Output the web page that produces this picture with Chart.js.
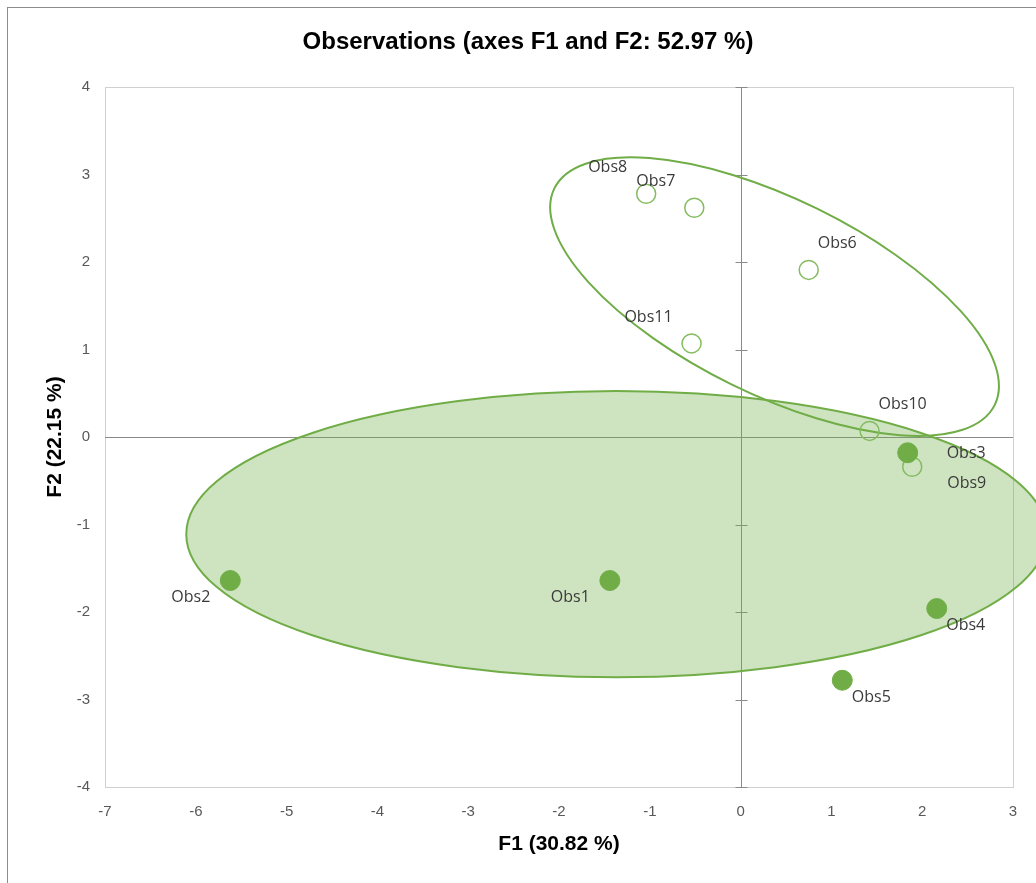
<!DOCTYPE html>
<html>
<head>
<meta charset="utf-8">
<script src="https://cdn.jsdelivr.net/npm/chart.js@4.4.1/dist/chart.umd.min.js"></script>
<style>
  html, body { margin: 0; padding: 0; background: #fff; }
</style>
</head>
<body>
<canvas id="chart" width="1036" height="883"></canvas>
<script>
// group 1 observations (filled markers)
var group1Names = ['Obs1', 'Obs2', 'Obs3', 'Obs4', 'Obs5'];
var group1X = [-1.44, -5.62, 1.84, 2.16, 1.12];
var group1Y = [-1.64, -1.64, -0.18, -1.96, -2.78];

// group 2 observations (hollow markers)
var group2Names = ['Obs6', 'Obs7', 'Obs8', 'Obs9', 'Obs10', 'Obs11'];
var group2X = [0.75, -0.51, -1.04, 1.89, 1.42, -0.54];
var group2Y = [1.91, 2.62, 2.78, -0.34, 0.07, 1.07];

var xTicks = [-7, -6, -5, -4, -3, -2, -1, 0, 1, 2, 3];
var yTicks = [-4, -3, -2, -1, 0, 1, 2, 3, 4];

// confidence ellipses: centre + two conjugate half axes, in F1/F2 units
var ellipse1Center = [-1.365, -1.11];
var ellipse1AxisA = [4.74, 0];
var ellipse1AxisB = [0, 1.635];
var ellipse2Center = [0.374, 1.604];
var ellipse2AxisA = [2.425, -1.237];
var ellipse2AxisB = [-0.475, -1.002];

// where each point label sits relative to its marker
var group1LabelPos = ['bl', 'bl', 'r', 'br', 'br'];
var group2LabelPos = ['tr', 'tl', 'tl', 'rb', 'tr', 'tl'];

var GREEN = '#70ad47';
var labelPlacement = {
    tl: { dx: -19, dy: -27.5, align: 'right' },
    tr: { dx: 9, dy: -27.5, align: 'left' },
    bl: { dx: -20, dy: 15.7, align: 'right' },
    br: { dx: 9.5, dy: 16, align: 'left' },
    r: { dx: 39, dy: 0, align: 'left' },
    rb: { dx: 35, dy: 16, align: 'left' }
};

function toPoints(xs, ys) {
    return xs.map((x, i) => ({ x: x, y: ys[i] }));
}

function traceEllipse(chart, center, axisA, axisB) {
    var ctx = chart.ctx;
    var sx = chart.scales.x, sy = chart.scales.y;
    var kx = sx.getPixelForValue(1) - sx.getPixelForValue(0);
    var ky = sy.getPixelForValue(1) - sy.getPixelForValue(0);
    ctx.save();
    ctx.transform(axisA[0] * kx, axisA[1] * ky, axisB[0] * kx, axisB[1] * ky,
        sx.getPixelForValue(center[0]), sy.getPixelForValue(center[1]));
    ctx.beginPath();
    ctx.arc(0, 0, 1, 0, Math.PI * 2);
    ctx.restore();
}

var plotDecor = {
    id: 'plotDecor',
    beforeDraw(chart) {
        var ctx = chart.ctx;
        ctx.save();
        ctx.strokeStyle = '#8c8c8c';
        ctx.lineWidth = 1;
        ctx.strokeRect(7.5, 7.5, 1200, 1200);
        ctx.restore();
    },
    beforeDatasetsDraw(chart) {
        var ctx = chart.ctx;
        var a = chart.chartArea;
        var sx = chart.scales.x, sy = chart.scales.y;
        ctx.save();
        // plot area frame
        ctx.strokeStyle = '#d0d0d0';
        ctx.lineWidth = 1;
        ctx.strokeRect(Math.round(a.left) + 0.5, Math.round(a.top) + 0.5,
            Math.round(a.right - a.left), Math.round(a.bottom - a.top));

        // axes through the origin, tick marks on the vertical one
        var x0 = Math.round(sx.getPixelForValue(0)) + 0.5;
        var y0 = Math.round(sy.getPixelForValue(0)) + 0.5;
        ctx.strokeStyle = '#8a8a8a';
        ctx.beginPath();
        ctx.moveTo(x0, a.top);
        ctx.lineTo(x0, a.bottom);
        ctx.moveTo(a.left, y0);
        ctx.lineTo(a.right, y0);
        yTicks.forEach(v => {
            var p = Math.round(sy.getPixelForValue(v)) + 0.5;
            ctx.moveTo(x0 - 6, p);
            ctx.lineTo(x0 + 6, p);
        });
        ctx.stroke();

        // ellipses
        ctx.lineWidth = 2;
        ctx.strokeStyle = GREEN;
        traceEllipse(chart, ellipse1Center, ellipse1AxisA, ellipse1AxisB);
        ctx.fillStyle = 'rgba(112, 173, 71, 0.34)';
        ctx.fill();
        ctx.stroke();
        traceEllipse(chart, ellipse2Center, ellipse2AxisA, ellipse2AxisB);
        ctx.stroke();
        ctx.restore();
    },
    afterDatasetsDraw(chart) {
        var ctx = chart.ctx;
        ctx.save();
        ctx.font = '16px "Open Sans"';
        ctx.fillStyle = '#3a3a3a';
        ctx.textBaseline = 'alphabetic';
        var groups = [[group1Names, group1LabelPos], [group2Names, group2LabelPos]];
        groups.forEach((g, di) => {
            var meta = chart.getDatasetMeta(di);
            meta.data.forEach((pt, i) => {
                var p = labelPlacement[g[1][i]];
                ctx.textAlign = p.align;
                ctx.fillText(g[0][i], pt.x + p.dx, pt.y + p.dy + 5.7);
            });
        });
        ctx.restore();
    }
};

var tickFont = { family: '"Liberation Sans", Arial, sans-serif', size: 15 };

new Chart(document.getElementById('chart'), {
    type: 'scatter',
    data: {
        datasets: [{
            label: 'Group 1',
            data: toPoints(group1X, group1Y),
            pointRadius: 10,
            pointBorderWidth: 1,
            backgroundColor: GREEN,
            borderColor: GREEN
        }, {
            label: 'Group 2',
            data: toPoints(group2X, group2Y),
            pointRadius: 9.5,
            pointBorderWidth: 1.5,
            backgroundColor: 'rgba(0,0,0,0)',
            borderColor: '#84bc60'
        }]
    },
    options: {
        responsive: false,
        animation: false,
        events: [],
        devicePixelRatio: 1,
        layout: { padding: { left: 43, right: 23, top: 0, bottom: 0 } },
        plugins: {
            legend: { display: false },
            tooltip: { enabled: false },
            title: {
                display: true,
                text: 'Observations (axes F1 and F2: 52.97 %)',
                color: '#000',
                font: { family: '"Liberation Sans", Arial, sans-serif', size: 24, weight: 'bold' },
                padding: { top: 27.6, bottom: 30.6 }
            }
        },
        scales: {
            x: {
                type: 'linear',
                min: -7,
                max: 3,
                afterBuildTicks: s => { s.ticks = xTicks.map(v => ({ value: v })); },
                afterFit: s => { s.height = 96; },
                grid: { display: false, drawTicks: false },
                border: { display: false },
                ticks: { font: tickFont, color: '#595959', padding: 16, maxRotation: 0, autoSkip: false },
                title: {
                    display: true,
                    text: 'F1 (30.82 %)',
                    color: '#000',
                    font: { family: '"Liberation Sans", Arial, sans-serif', size: 21, weight: 'bold' },
                    padding: { top: 0, bottom: 26 }
                }
            },
            y: {
                type: 'linear',
                min: -4,
                max: 4,
                afterBuildTicks: s => { s.ticks = yTicks.map(v => ({ value: v })); },
                afterFit: s => { s.width = 62; },
                grid: { display: false, drawTicks: false },
                border: { display: false },
                ticks: { font: tickFont, color: '#595959', padding: 15, autoSkip: false },
                title: {
                    display: true,
                    text: 'F2 (22.15 %)',
                    color: '#000',
                    font: { family: '"Liberation Sans", Arial, sans-serif', size: 21, weight: 'bold' },
                    padding: { top: 0, bottom: 0 }
                }
            }
        }
    },
    plugins: [plotDecor]
});
</script>
</body>
</html>
